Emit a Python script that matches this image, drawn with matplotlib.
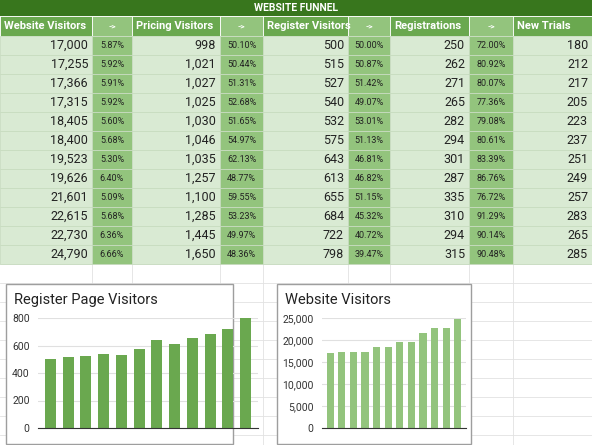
import matplotlib.pyplot as plt
import matplotlib.patches as patches

website = [17000, 17255, 17366, 17315, 18405, 18400, 19523, 19626, 21601, 22615, 22730, 24790]
pct1 = [5.87, 5.92, 5.91, 5.92, 5.60, 5.68, 5.30, 6.40, 5.09, 5.68, 6.36, 6.66]
pricing = [998, 1021, 1027, 1025, 1030, 1046, 1035, 1257, 1100, 1285, 1445, 1650]
pct2 = [50.10, 50.44, 51.31, 52.68, 51.65, 54.97, 62.13, 48.77, 59.55, 53.23, 49.97, 48.36]
register = [500, 515, 527, 540, 532, 575, 643, 613, 655, 684, 722, 798]
pct3 = [50.00, 50.87, 51.42, 49.07, 53.01, 51.13, 46.81, 46.82, 51.15, 45.32, 40.72, 39.47]
registrations = [250, 262, 271, 265, 282, 294, 301, 287, 335, 310, 294, 315]
pct4 = [72.00, 80.92, 80.07, 77.36, 79.08, 80.61, 83.39, 86.76, 76.72, 91.29, 90.14, 90.48]
trials = [180, 212, 217, 205, 223, 237, 251, 249, 257, 283, 265, 285]
headers = ["Website Visitors", "->", "Pricing Visitors", "->", "Register Visitors", "->",
           "Registrations", "->", "New Trials"]

W, H = 592, 445
fig = plt.figure(figsize=(W / 100, H / 100), dpi=100)
plt.rcParams['font.family'] = ['Roboto', 'DejaVu Sans']

# pixel helpers (top-left origin)
def rect(x0, y0, x1, y1, fc, ec='none', lw=0.6, z=1):
    fig.patches.append(patches.Rectangle((x0 / W, 1 - y1 / H), (x1 - x0) / W, (y1 - y0) / H,
                                         transform=fig.transFigure, fc=fc, ec=ec, lw=lw, zorder=z))

def txt(x, y, s, **kw):
    fig.text(x / W, 1 - y / H, s, va='center', zorder=6, **kw)

cols = [0, 92, 132, 220, 263, 348, 390, 469, 513, 592]
row_h = 19
top = 36

# grid background
for y in range(top, H, row_h):
    fig.add_artist(plt.Line2D([0, 1], [1 - y / H] * 2, color='#e2e2e2', lw=0.6, zorder=0.5))
for x in cols[1:-1]:
    fig.add_artist(plt.Line2D([x / W] * 2, [0, 1 - top / H], color='#e2e2e2', lw=0.6, zorder=0.5))

# title bar
rect(0, 0, W, 16, '#38761d')
txt(W / 2, 8, "WEBSITE FUNNEL", ha='center', color='white', fontsize=7.5, weight='bold')

# header
for i, h in enumerate(headers):
    arrow = h == "->"
    rect(cols[i], 16, cols[i + 1], 36, '#93c47d' if arrow else '#6aa84f', ec='white')
    if arrow:
        txt((cols[i] + cols[i + 1]) / 2, 26, h, ha='center', color='white', fontsize=6, weight='bold')
    else:
        txt(cols[i] + 4, 26, h, ha='left', color='white', fontsize=8, weight='bold')

columns = [website, pct1, pricing, pct2, register, pct3, registrations, pct4, trials]
for r in range(len(website)):
    y0 = top + r * row_h
    for i, col in enumerate(columns):
        arrow = i % 2 == 1
        rect(cols[i], y0, cols[i + 1], y0 + row_h, '#93c47d' if arrow else '#d9ead3', ec='#c8dcc0')
        if arrow:
            txt((cols[i] + cols[i + 1]) / 2, y0 + row_h / 2, f"{col[r]:.2f}%", ha='center',
                fontsize=6.5, color='#222222')
        else:
            txt(cols[i + 1] - 4, y0 + row_h / 2, f"{col[r]:,}", ha='right', fontsize=9, color='#222222')

# charts
def chart(box, area, title, values, color, ymax, step):
    x0, y0, x1, y1 = box
    rect(x0, y0, x1, y1, 'white', ec='#9e9e9e', lw=1, z=2)
    ax0, ay0, ax1, ay1 = area
    ax = fig.add_axes([ax0 / W, 1 - ay1 / H, (ax1 - ax0) / W, (ay1 - ay0) / H])
    ax.set_zorder(5)
    ax.bar(range(len(values)), values, width=0.62, color=color)
    ax.set_ylim(0, ymax)
    ax.set_xlim(-0.7, len(values) - 0.3)
    ax.set_yticks(range(0, ymax + 1, step))
    ax.set_yticklabels([f"{v:,}" for v in range(0, ymax + 1, step)], fontsize=7.5, color='#333333')
    ax.set_xticks([])
    ax.grid(axis='y', color='#e0e0e0', lw=0.8)
    ax.set_axisbelow(True)
    for s in ['top', 'right', 'left']:
        ax.spines[s].set_visible(False)
    ax.spines['bottom'].set_color('#333333')
    ax.tick_params(axis='y', length=0, pad=6)
    ax.set_facecolor('none')
    txt(x0 + 8, y0 + 16, title, ha='left', fontsize=10.5, color='#222222')

chart((6, 284, 233, 444), (38, 318, 258, 428), "Register Page Visitors", register, '#6aa84f', 800, 200)
chart((277, 284, 471, 444), (322, 318, 466, 428), "Website Visitors", website, '#93c47d', 25000, 5000)

fig.savefig("out.png", dpi=100)
